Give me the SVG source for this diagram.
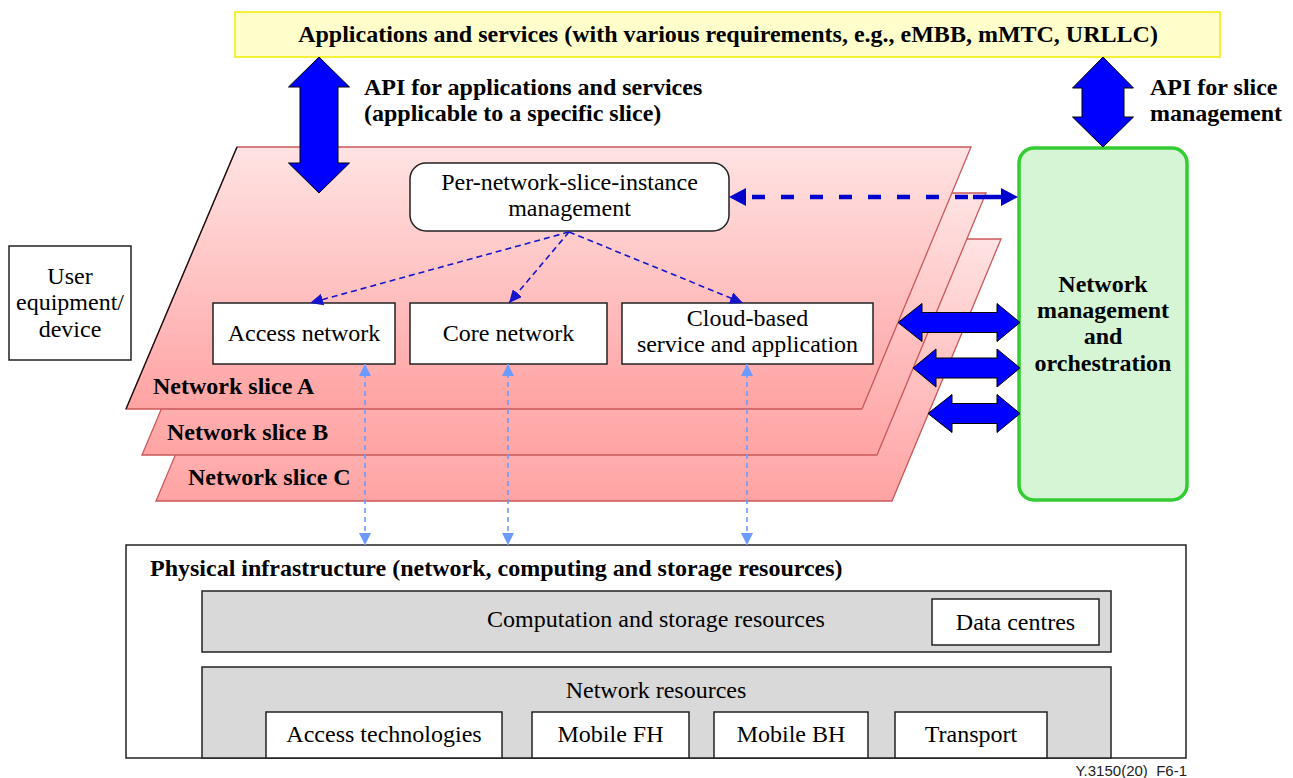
<svg xmlns="http://www.w3.org/2000/svg" width="1293" height="778" viewBox="0 0 1293 778">
  <defs>
    <linearGradient id="sliceFill" x1="0" y1="0" x2="0" y2="1">
      <stop offset="0" stop-color="#ffe3e3"/>
      <stop offset="1" stop-color="#ffa3a3"/>
    </linearGradient>
    <marker id="headThick" markerUnits="userSpaceOnUse" viewBox="0 0 17 18" refX="17" refY="9" markerWidth="17" markerHeight="18" orient="auto-start-reverse">
      <path d="M0,0 L17,9 L0,18 Z" fill="#0000cc"/>
    </marker>
    <marker id="headThin" markerUnits="userSpaceOnUse" viewBox="0 0 13 12" refX="13" refY="6" markerWidth="13" markerHeight="12" orient="auto">
      <path d="M0,0 L13,6 L0,12 Z" fill="#1515cc"/>
    </marker>
    <marker id="headLight" markerUnits="userSpaceOnUse" viewBox="0 0 12 12" refX="12" refY="6" markerWidth="12" markerHeight="12" orient="auto-start-reverse">
      <path d="M0,0 L12,6 L0,12 Z" fill="#6b9bff"/>
    </marker>
    <style>
      .t { font-family: "Liberation Serif", "Times New Roman", serif; font-size: 24px; fill: #000; }
      .b { font-weight: bold; }
      .m { text-anchor: middle; }
      .box { fill: #fff; stroke: #222; stroke-width: 1.5; }
      .grey { fill: #d9d9d9; stroke: #222; stroke-width: 1.5; }
      .slice { fill: url(#sliceFill); stroke: #c9585a; stroke-width: 1.3; }
      .block { fill: #0000ff; stroke: #000; stroke-width: 1; }
      .thick { fill: none; stroke: #0000cc; stroke-width: 4.5; stroke-dasharray: 13 16; }
      .thick-solid { fill: none; stroke: #0000cc; stroke-width: 4.5; }
      .thin { fill: none; stroke: #1515cc; stroke-width: 1.6; stroke-dasharray: 6 4; }
      .light { fill: none; stroke: #6b9bff; stroke-width: 1.6; stroke-dasharray: 5 4; }
    </style>
  </defs>

  <!-- applications and services bar -->
  <g id="apps">
    <rect x="235" y="12" width="985" height="45" fill="#ffffcc" stroke="#eeee00" stroke-width="1.5"/>
    <text class="t b m" x="728" y="42">Applications and services (with various requirements, e.g., eMBB, mMTC, URLLC)</text>
  </g>

  <!-- network slices, back to front -->
  <g id="slice-c">
    <polygon class="slice" points="266,239 1001,239 892,501 156,501"/>
    <text class="t b" x="188" y="485">Network slice C</text>
  </g>
  <g id="slice-b">
    <polygon class="slice" points="252,193 986,193 877,455 142,455"/>
    <text class="t b" x="167" y="440">Network slice B</text>
  </g>
  <g id="slice-a">
    <polygon class="slice" points="237,147 971,147 862,409 126,409"/>
    <line x1="237" y1="147" x2="126" y2="409" stroke="#111" stroke-width="1.3"/>
    <text class="t b" x="153" y="394">Network slice A</text>
  </g>

  <!-- API labels -->
  <g id="api-apps-label">
    <text class="t b" x="364" y="95">API for applications and services</text>
    <text class="t b" x="364" y="121">(applicable to a specific slice)</text>
  </g>
  <g id="api-slice-label">
    <text class="t b" x="1150" y="95">API for slice</text>
    <text class="t b" x="1150" y="121">management</text>
  </g>

  <g id="user-equipment">
    <rect class="box" x="9" y="246" width="122" height="114"/>
    <text class="t m" x="70" y="284">User</text>
    <text class="t m" x="70" y="310">equipment/</text>
    <text class="t m" x="70" y="337">device</text>
  </g>

  <g id="slice-management">
    <rect class="box" x="410" y="163" width="319" height="68" rx="16" ry="16"/>
    <text class="t m" x="569.5" y="190">Per-network-slice-instance</text>
    <text class="t m" x="569.5" y="216">management</text>
  </g>

  <g id="access-network">
    <rect class="box" x="213" y="303" width="182" height="61"/>
    <text class="t m" x="304" y="341">Access network</text>
  </g>
  <g id="core-network">
    <rect class="box" x="410" y="303" width="197" height="61"/>
    <text class="t m" x="508.5" y="341">Core network</text>
  </g>
  <g id="cloud-service">
    <rect class="box" x="622" y="303" width="251" height="61"/>
    <text class="t m" x="747.5" y="326">Cloud-based</text>
    <text class="t m" x="747.5" y="352">service and application</text>
  </g>

  <g id="orchestration">
    <rect x="1019" y="148" width="168" height="352" rx="15" ry="15" fill="#d5f5d5" stroke="#33cc33" stroke-width="3.5"/>
    <text class="t b m" x="1103" y="292">Network</text>
    <text class="t b m" x="1103" y="318">management</text>
    <text class="t b m" x="1103" y="344">and</text>
    <text class="t b m" x="1103" y="371">orchestration</text>
  </g>

  <g id="physical-infrastructure">
    <rect class="box" x="126" y="545" width="1060" height="213"/>
    <text class="t b" x="150" y="576">Physical infrastructure (network, computing and storage resources)</text>
    <g id="computation-storage">
      <rect class="grey" x="202" y="591" width="909" height="61"/>
      <text class="t m" x="656" y="627">Computation and storage resources</text>
      <rect class="box" x="932" y="599" width="167" height="46"/>
      <text class="t m" x="1015.5" y="630">Data centres</text>
    </g>
    <g id="network-resources">
      <rect class="grey" x="202" y="667" width="909" height="91"/>
      <text class="t m" x="656" y="698">Network resources</text>
      <rect class="box" x="266" y="712" width="236" height="46"/>
      <text class="t m" x="384" y="742">Access technologies</text>
      <rect class="box" x="532" y="712" width="157" height="46"/>
      <text class="t m" x="610.5" y="742">Mobile FH</text>
      <rect class="box" x="714" y="712" width="154" height="46"/>
      <text class="t m" x="791" y="742">Mobile BH</text>
      <rect class="box" x="895" y="712" width="152" height="46"/>
      <text class="t m" x="971" y="742">Transport</text>
    </g>
  </g>

  <!-- connectors -->
  <g id="connectors">
    <path class="block" d="M319,57 L349.5,87 L338,87 L338,163 L349.5,163 L319,193 L288.5,163 L300,163 L300,87 L288.5,87 Z"/>
    <path class="block" d="M1103,57 L1133.5,88 L1124,88 L1124,117 L1133.5,117 L1103,147 L1072.5,117 L1082,117 L1082,88 L1072.5,88 Z"/>
    <path class="block" d="M898,322.5 L922,303.5 L922,312.5 L997,312.5 L997,303.5 L1020,322.5 L997,341.5 L997,332.5 L922,332.5 L922,341.5 Z"/>
    <path class="block" d="M913,368 L936,349 L936,358 L997,358 L997,349 L1020,368 L997,387 L997,378 L936,378 L936,387 Z"/>
    <path class="block" d="M928,413.5 L952,394.5 L952,403.5 L997,403.5 L997,394.5 L1020,413.5 L997,432.5 L997,423.5 L952,423.5 L952,432.5 Z"/>

    <!-- dashed two-way link between slice management and orchestration -->
    <line class="thick" x1="752" y1="197" x2="975" y2="197"/>
    <line class="thick-solid" x1="973" y1="197" x2="1004" y2="197"/>
    <line class="thick-solid" x1="729" y1="197" x2="1018" y2="197" stroke-opacity="0" marker-start="url(#headThick)" marker-end="url(#headThick)"/>

    <line class="thin" x1="569" y1="232" x2="310" y2="303" marker-end="url(#headThin)"/>
    <line class="thin" x1="569" y1="232" x2="509" y2="303" marker-end="url(#headThin)"/>
    <line class="thin" x1="569" y1="232" x2="743" y2="303" marker-end="url(#headThin)"/>

    <line class="light" x1="365" y1="364" x2="365" y2="545" marker-start="url(#headLight)" marker-end="url(#headLight)"/>
    <line class="light" x1="508" y1="364" x2="508" y2="545" marker-start="url(#headLight)" marker-end="url(#headLight)"/>
    <line class="light" x1="747" y1="364" x2="747" y2="545" marker-start="url(#headLight)" marker-end="url(#headLight)"/>
  </g>

  <text x="1187" y="776" font-family="'Liberation Sans', Arial, sans-serif" font-size="15" text-anchor="end" fill="#222">Y.3150(20)_F6-1</text>
</svg>
